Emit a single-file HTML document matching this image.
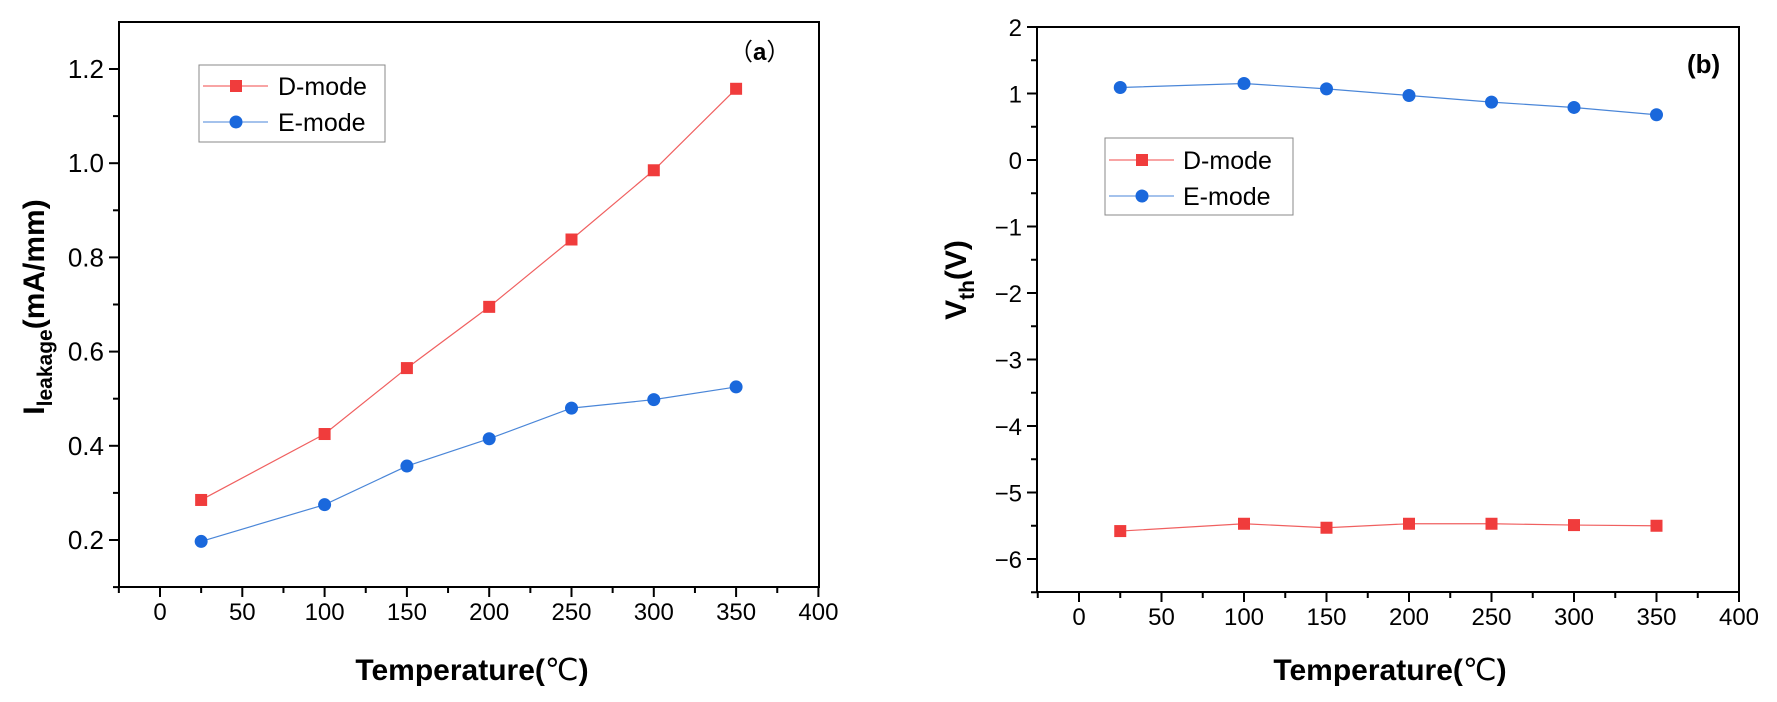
<!DOCTYPE html>
<html><head><meta charset="utf-8"><style>
html,body{margin:0;padding:0;background:#fff}
svg{display:block}
text{font-family:"Liberation Sans",Arial,sans-serif;fill:#000}
</style></head><body>
<svg id="s" width="1777" height="702" viewBox="0 0 1777 702" xmlns="http://www.w3.org/2000/svg">
<rect width="1777" height="702" fill="#fff"/>
<!-- frames -->
<rect x="119" y="22" width="700" height="565" fill="none" stroke="#000" stroke-width="2"/>
<rect x="1037" y="27" width="702" height="565" fill="none" stroke="#000" stroke-width="2"/>
<g id="g"></g>
<!-- legends -->
<rect x="199" y="65" width="186" height="77" fill="#fff" stroke="#888" stroke-width="1"/>
<line x1="203" y1="86" x2="268" y2="86" stroke="#f04848" stroke-width="1"/>
<rect x="230" y="80" width="12" height="12" fill="#f03c3c"/>
<text x="278" y="95" font-size="25">D-mode</text>
<line x1="203" y1="122" x2="268" y2="122" stroke="#4a86d8" stroke-width="1"/>
<circle cx="236" cy="122" r="6.5" fill="#1a68dc"/>
<text x="278" y="131" font-size="25">E-mode</text>

<rect x="1105" y="138" width="188" height="77" fill="#fff" stroke="#888" stroke-width="1"/>
<line x1="1109" y1="160" x2="1174" y2="160" stroke="#f04848" stroke-width="1"/>
<rect x="1136" y="154" width="12" height="12" fill="#f03c3c"/>
<text x="1183" y="169" font-size="25">D-mode</text>
<line x1="1109" y1="196" x2="1174" y2="196" stroke="#4a86d8" stroke-width="1"/>
<circle cx="1142" cy="196" r="6.5" fill="#1a68dc"/>
<text x="1183" y="205" font-size="25">E-mode</text>

<text x="729" y="60" font-size="24" font-family="'Liberation Sans','Noto Sans CJK SC',sans-serif">（<tspan font-weight="bold">a</tspan>）</text>
<text x="1687" y="73" font-size="26" font-weight="bold">(b)</text>

<text x="472" y="680" font-size="30" font-weight="bold" text-anchor="middle" font-family="'Liberation Sans','Noto Sans CJK SC',sans-serif">Temperature(<tspan font-weight="normal">℃</tspan>)</text>
<text x="1390" y="680" font-size="30" font-weight="bold" text-anchor="middle" font-family="'Liberation Sans','Noto Sans CJK SC',sans-serif">Temperature(<tspan font-weight="normal">℃</tspan>)</text>

<text transform="translate(44,307) rotate(-90)" font-size="30" font-weight="bold" text-anchor="middle">I<tspan font-size="21" dy="8">leakage</tspan><tspan dy="-8">(mA/mm)</tspan></text>
<text transform="translate(966,280) rotate(-90)" font-size="30" font-weight="bold" text-anchor="middle">V<tspan font-size="21" dy="8">th</tspan><tspan dy="-8">(V)</tspan></text>
</svg>
<script>
var g=document.getElementById('g'),NS='http://www.w3.org/2000/svg',h='';
function L(a,b,c,d,w,col){h+='<line x1="'+a+'" y1="'+b+'" x2="'+c+'" y2="'+d+'" stroke="'+(col||'#000')+'" stroke-width="'+(w||2)+'"/>';}
function T(x,y,s,anc,fs){h+='<text x="'+x+'" y="'+y+'" font-size="'+(fs||24)+'" text-anchor="'+anc+'">'+s+'</text>';}
// left plot
function lx(v){return 160+v*1.646;} function ly(v){return 540-(v-0.2)*471;}
for(var v=-25;v<=400;v+=25){var x=lx(v);var maj=(v%50===0);L(x,587,x,587+(maj?10:6));if(maj)T(x,620,v,'middle');}
for(var i=1;i<=12;i++){var v=i/10;var y=ly(v);var maj=(i%2===0);L(119,y,119-(maj?10:6),y);if(maj)T(104,y+9,v.toFixed(1),'end',26);}
// right plot
function rx(v){return 1079+v*1.65;} function ry(v){return 160-66.5*v;}
for(var v=-25;v<=400;v+=25){var x=rx(v);var maj=(v%50===0);L(x,592,x,592+(maj?10:6));if(maj)T(x,625,v,'middle');}
for(var k=-13;k<=4;k++){var v=k/2;var y=ry(v);var maj=(k%2===0);L(1037,y,1037-(maj?10:6),y);if(maj)T(1022,y+9,(v<0?'−'+(-v):v),'end');}
var X=[25,100,150,200,250,300,350];
function series(xs,ys,fx,fy,col,lc,sq){var p=xs.map(function(x,i){return fx(x)+','+fy(ys[i]);}).join(' ');
h+='<polyline points="'+p+'" fill="none" stroke="'+lc+'" stroke-width="1.2"/>';
xs.forEach(function(x,i){var a=fx(x),b=fy(ys[i]);if(sq)h+='<rect x="'+(a-6)+'" y="'+(b-6)+'" width="12" height="12" fill="'+col+'"/>';else h+='<circle cx="'+a+'" cy="'+b+'" r="6.5" fill="'+col+'"/>';});}
series(X,[0.285,0.425,0.565,0.695,0.838,0.985,1.158],lx,ly,'#f03c3c','#f06060',true);
series(X,[0.197,0.275,0.357,0.415,0.48,0.498,0.525],lx,ly,'#1a68dc','#4a86d8',false);
series(X,[1.09,1.15,1.07,0.97,0.87,0.79,0.68],rx,ry,'#1a68dc','#4a86d8',false);
series(X,[-5.58,-5.47,-5.53,-5.47,-5.47,-5.49,-5.5],rx,ry,'#f03c3c','#f06060',true);
g.innerHTML=h;
</script>
</body></html>
